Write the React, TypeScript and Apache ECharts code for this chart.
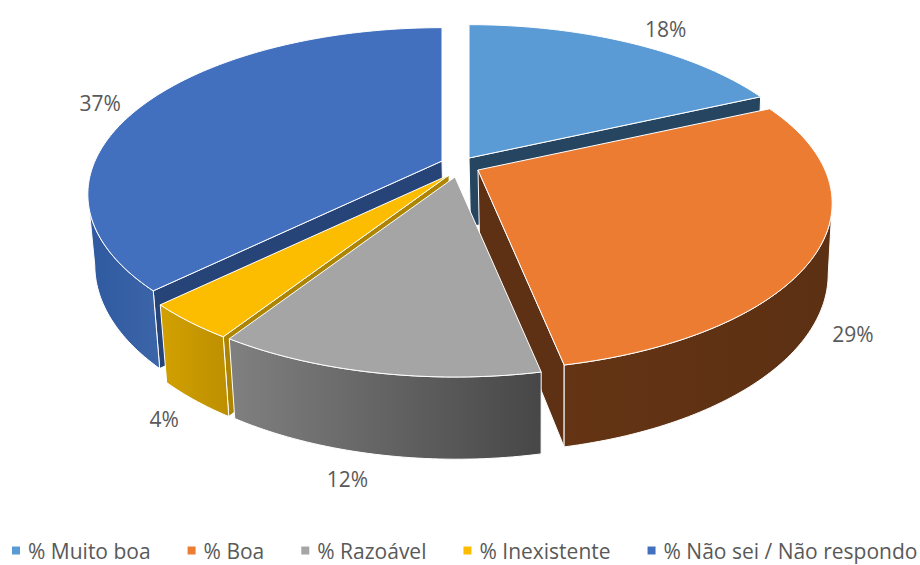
import React, { useEffect, useRef } from "react";
import * as echarts from "echarts";

const categories = ["% Muito boa", "% Boa", "% Razoável", "% Inexistente", "% Não sei / Não respondo"];
// Labels show them rounded
const shares = [18.2, 28.6, 12.3, 3.6, 37.3];

const topColors = ["#5b9bd5", "#eb7c31", "#a5a5a5", "#fcbd00", "#4270bf"];
const cutColors = ["#264560", "#5e3114", "#5a5a5a", "#ad8500", "#264478"];
const wallStart = ["#2f5f8c", "#643414", "#808080", "#d2a000", "#2f5a9f"];
const wallEnd = ["#2f5f8c", "#5c3013", "#474747", "#bd8f00", "#3c64a9"];
// Screen position of each exploded slice's apex and its label nudge
const apexes = [[469, 158], [478, 170], [455, 177], [449, 175], [442, 161]];
const labelNudges = [[36, -14], [35, 84], [-28, 106], [-25, 97], [-45, 0]];
const drawOrder = [0, 4, 1, 3, 2];

// Perspective model of the disc
const CX = 347, CY = 160, K = 0.2, DEPTH = 70, DW = 0.015, DX = 1.5;
const TANGENT = (Math.asin(K) * 180) / Math.PI; // rim point where the side wall leaves the silhouette

function project(deg: number, r: number, bottom: boolean) {
  const t = (deg * Math.PI) / 180;
  const X = r * Math.sin(t), Y = r * Math.cos(t);
  const w = 1 + K * Y + (bottom ? DW : 0);
  return [(CX * X) / w + (bottom ? DX : 0), (-CY * Y + (bottom ? DEPTH : 0)) / w];
}

function arc(a0: number, a1: number, bottom: boolean, ax: number, ay: number) {
  const out: number[][] = [];
  const n = Math.max(2, Math.ceil(Math.abs(a1 - a0)));
  for (let i = 0; i <= n; i++) {
    const p = project(a0 + ((a1 - a0) * i) / n, 1, bottom);
    out.push([ax + p[0], ay + p[1]]);
  }
  return out;
}

export default function App() {
  const ref = useRef<HTMLDivElement>(null);
  useEffect(() => {
    const chart = echarts.init(ref.current!, null, { renderer: "svg" });
    const total = shares.reduce((a, b) => a + b, 0);
    const starts: number[] = [];
    let acc = 0;
    shares.forEach((v) => { starts.push((acc / total) * 360); acc += v; });

    const edge = { stroke: "#ffffff", lineWidth: 1, lineJoin: "round" };

    const makeSeries = (i: number) => ({
      type: "custom",
      name: categories[i],
      coordinateSystem: "none",
      silent: true,
      itemStyle: { color: topColors[i] },
      data: [shares[i]],
      renderItem: (_p: any, api: any) => {
        const value = api.value(0);
        const a0 = starts[i];
        const a1 = a0 + (value / total) * 360;
        const [ax, ay] = apexes[i];
        const apexTop = project(0, 0, false);
        const apexBot = project(0, 0, true);
        const top = arc(a0, a1, false, ax, ay);
        const children: any[] = [];
        const cut = (deg: number, normalY: number) => {
          if (normalY >= -1e-6) return;
          const t = project(deg, 1, false), b = project(deg, 1, true);
          children.push({
            type: "polygon",
            shape: { points: [
              [ax + apexTop[0], ay + apexTop[1]], [ax + t[0], ay + t[1]],
              [ax + b[0], ay + b[1]], [ax + apexBot[0], ay + apexBot[1]],
            ] },
            style: { fill: cutColors[i], ...edge },
          });
        };
        const rad = (d: number) => (d * Math.PI) / 180;
        // a radial wall faces the viewer when the Y component of its outward normal is negative
        cut(a0, Math.sin(rad(a0)));
        cut(a1, -Math.sin(rad(a1)));
        // outer wall: only the near part of the rim, between the silhouette points
        const f0 = Math.max(a0, 90 + TANGENT), f1 = Math.min(a1, 270 - TANGENT);
        if (f1 > f0) {
          const wt = arc(f0, f1, false, ax, ay);
          const wb = arc(f0, f1, true, ax, ay);
          children.push({
            type: "polygon",
            shape: { points: wt.concat(wb.reverse()) },
            style: {
              fill: new echarts.graphic.LinearGradient(0, 0, 1, 0, [
                { offset: 0, color: wallStart[i] },
                { offset: 1, color: wallEnd[i] },
              ]),
              ...edge,
            },
          });
        }
        children.push({
          type: "polygon",
          shape: { points: [[ax + apexTop[0], ay + apexTop[1]], ...top] },
          style: { fill: topColors[i], ...edge },
        });
        const mid = project((a0 + a1) / 2, 1, false);
        children.push({
          type: "text",
          style: {
            text: `${Math.round(value)}%`,
            x: ax + mid[0] + labelNudges[i][0],
            y: ay + mid[1] + labelNudges[i][1],
            align: "center",
            verticalAlign: "middle",
            fill: "#595959",
            font: "21px 'Open Sans'",
          },
        });
        return { type: "group", children };
      },
    });

    chart.setOption({
      animation: false,
      backgroundColor: "#ffffff",
      legend: {
        left: 12,
        top: 540,
        width: 1000,
        padding: 0,
        itemWidth: 8,
        itemHeight: 8,
        itemGap: 37,
        icon: "rect",
        selectedMode: false,
        data: categories,
        textStyle: { color: "#595959", fontFamily: "Open Sans", fontSize: 21, padding: [0, 0, 0, 3] },
      },
      series: drawOrder.map(makeSeries),
    });
    return () => chart.dispose();
  }, []);
  return <div ref={ref} style={{ position: "absolute", left: 0, top: 0, width: 920, height: 565 }} />;
}
